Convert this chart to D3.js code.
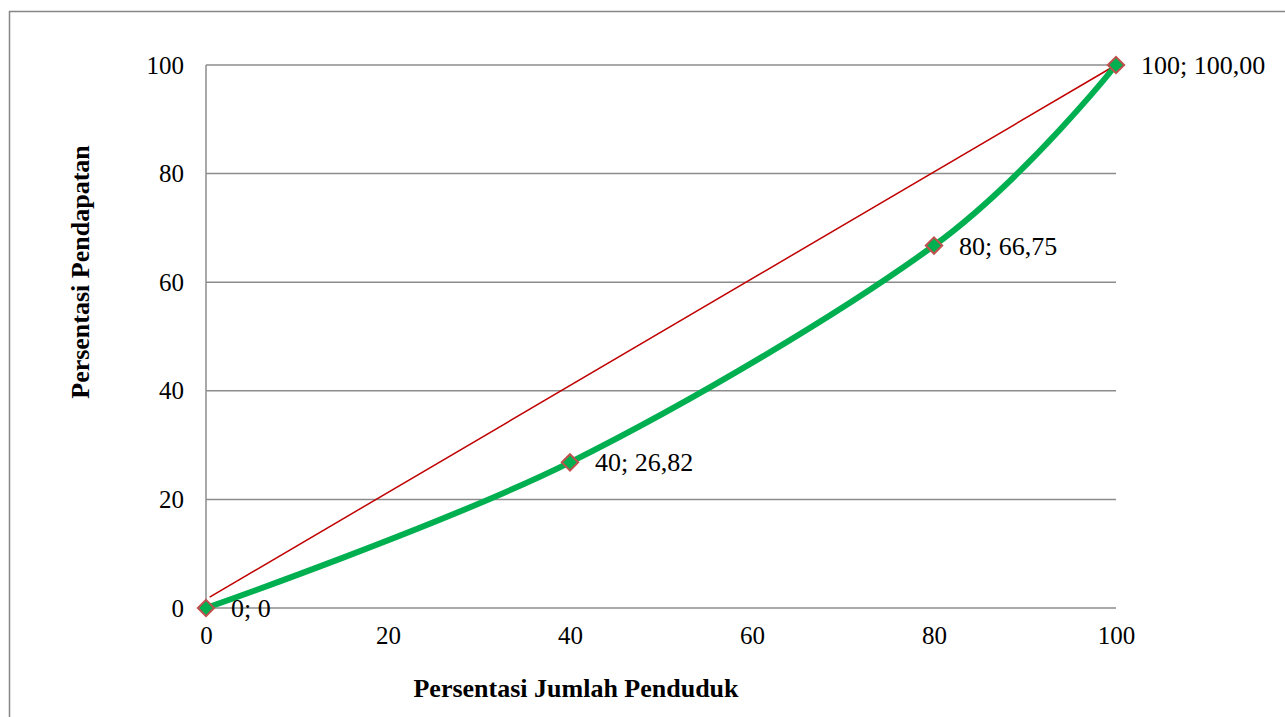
<!DOCTYPE html>
<html><head><meta charset="utf-8">
<script src="https://cdn.jsdelivr.net/npm/d3@7"></script>
<style>body{margin:0;background:#fff}svg{display:block}text{font-family:"Liberation Serif","Times New Roman",serif}</style>
</head><body>
<svg id="c" width="1285" height="717"></svg>
<script>
const xTicks = [0, 20, 40, 60, 80, 100];
const yTicks = [0, 20, 40, 60, 80, 100];
const popPct = [0, 40, 80, 100];
const incomePct = [0, 26.82, 66.75, 100];
const pointLabels = ["0; 0", "40; 26,82", "80; 66,75", "100; 100,00"];
const equalityX = [0.4, 100];
const equalityY = [2, 100];
const xTitle = "Persentasi Jumlah Penduduk";
const yTitle = "Persentasi Pendapatan";

const svg = d3.select("#c");
svg.append("rect").attr("x", 9.5).attr("y", 11.5).attr("width", 1300).attr("height", 720)
  .attr("fill", "#fff").attr("stroke", "#868686").attr("stroke-width", 1.5);

const x = d3.scaleLinear().domain([0, 100]).range([206, 1116]);
const y = d3.scaleLinear().domain([0, 100]).range([608, 65]);

svg.append("g").selectAll("line").data(yTicks).join("line")
  .attr("x1", x(0)).attr("x2", x(100)).attr("y1", d => y(d)).attr("y2", d => y(d))
  .attr("stroke", "#8c8c8c").attr("stroke-width", 1.5);
svg.append("line").attr("x1", x(0)).attr("x2", x(0)).attr("y1", y(0)).attr("y2", y(100))
  .attr("stroke", "#8c8c8c").attr("stroke-width", 1.5);

const yAxis = d3.axisLeft(y).tickValues(yTicks).tickSize(0).tickPadding(22);
const gy = svg.append("g").attr("transform", `translate(${x(0)},0)`).call(yAxis);
gy.select(".domain").remove();
gy.selectAll("text").attr("font-size", 25).attr("fill", "#000").style("font-family", "Liberation Serif");
const xAxis = d3.axisBottom(x).tickValues(xTicks).tickSize(0).tickPadding(18);
const gx = svg.append("g").attr("transform", `translate(0,${y(0)})`).call(xAxis);
gx.select(".domain").remove();
gx.selectAll("text").attr("font-size", 25).attr("fill", "#000").style("font-family", "Liberation Serif");

svg.append("text").attr("x", 576).attr("y", 697).attr("text-anchor", "middle")
  .attr("font-size", 26).attr("font-weight", "bold").text(xTitle);
svg.append("text").attr("transform", "translate(89,272) rotate(-90)").attr("text-anchor", "middle")
  .attr("font-size", 26).attr("font-weight", "bold").text(yTitle);

const eq = equalityX.map((v, i) => [v, equalityY[i]]);
svg.append("path").datum(eq)
  .attr("d", d3.line().x(d => x(d[0])).y(d => y(d[1])))
  .attr("fill", "none").attr("stroke", "#c00000").attr("stroke-width", 1.5);

const pts = popPct.map((v, i) => [v, incomePct[i]]);
svg.append("path").datum(pts)
  .attr("d", d3.line().x(d => x(d[0])).y(d => y(d[1])).curve(d3.curveCatmullRom.alpha(0)))
  .attr("fill", "none").attr("stroke", "#00b050").attr("stroke-width", 6);

svg.append("g").selectAll("path").data(pts).join("path")
  .attr("d", d3.symbol(d3.symbolDiamond2, 170)())
  .attr("transform", d => `translate(${x(d[0])},${y(d[1])})`)
  .attr("fill", "#00b050").attr("stroke", "#c0504d").attr("stroke-width", 2);

svg.append("g").selectAll("text").data(pts).join("text")
  .attr("x", d => x(d[0]) + 25).attr("y", d => y(d[1]) + 9)
  .attr("font-size", 26).attr("fill", "#000")
  .text((d, i) => pointLabels[i]);
</script>
</body></html>
